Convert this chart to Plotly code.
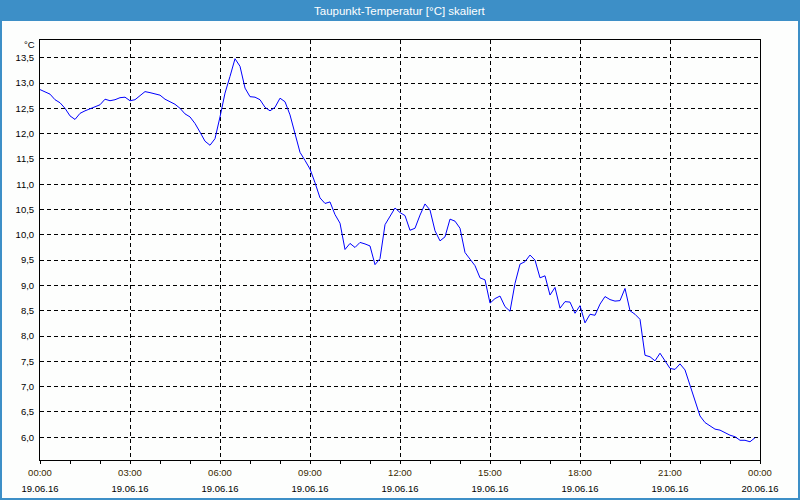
import plotly.graph_objects as go
import pandas as pd

# 10-minute readings, 19.06.16 00:00 .. 23:50
start = "2016-06-19 00:00"
dewpoint = [
    12.87, 12.83, 12.78, 12.67, 12.61, 12.50, 12.35, 12.28, 12.40, 12.45,
    12.49, 12.52, 12.57, 12.68, 12.65, 12.67, 12.71, 12.72, 12.65, 12.67,
    12.75, 12.83, 12.81, 12.79, 12.76, 12.68, 12.63, 12.58, 12.50, 12.39,
    12.33, 12.20, 12.03, 11.85, 11.77, 11.90, 12.33, 12.80, 13.13, 13.48,
    13.33, 12.90, 12.73, 12.72, 12.67, 12.52, 12.45, 12.52, 12.70, 12.63,
    12.37, 11.97, 11.63, 11.47, 11.30, 11.03, 10.73, 10.62, 10.65, 10.40,
    10.23, 9.71, 9.83, 9.75, 9.85, 9.82, 9.78, 9.41, 9.53, 10.20,
    10.37, 10.53, 10.44, 10.38, 10.09, 10.13, 10.39, 10.61, 10.49, 10.08,
    9.88, 9.96, 10.31, 10.27, 10.13, 9.65, 9.52, 9.39, 9.15, 9.11,
    8.65, 8.74, 8.79, 8.58, 8.49, 9.04, 9.42, 9.47, 9.60, 9.50,
    9.15, 9.19, 8.81, 8.96, 8.55, 8.68, 8.67, 8.45, 8.60, 8.26,
    8.43, 8.41, 8.63, 8.78, 8.72, 8.69, 8.70, 8.94, 8.50, 8.43,
    8.33, 7.62, 7.59, 7.51, 7.66, 7.50, 7.36, 7.34, 7.45, 7.33,
    7.03, 6.70, 6.42, 6.29, 6.23, 6.16, 6.14, 6.09, 6.04, 6.01,
    5.94, 5.94, 5.91, 5.99,
]
times = pd.date_range(start, periods=len(dewpoint), freq="10min")

title_text = "Taupunkt-Temperatur [°C] skaliert"
unit_text = "°C"
x_range = ["2016-06-19 00:00", "2016-06-20 00:00"]
y_range = [5.55, 13.85]

W, H = 800, 500
ML, MR, MT, MB = 40, 40, 40, 40
PW, PH = W - ML - MR, H - MT - MB


def px(xp):
    return (xp - ML) / PW


def py(yp):
    return (H - MB - yp) / PH


BLUE = "#3d8fc7"
BG = "#fdfefd"
FONT = "Liberation Sans"

fig = go.Figure()
fig.add_trace(go.Scatter(x=times, y=dewpoint, mode="lines",
                         line=dict(color="#0000ff", width=1),
                         showlegend=False, hoverinfo="x+y"))
# invisible twin for the second (date) label row
fig.add_trace(go.Scatter(x=times, y=dewpoint, mode="lines", xaxis="x2",
                         line=dict(color="rgba(0,0,0,0)", width=0),
                         showlegend=False, hoverinfo="skip"))

grid = dict(gridcolor="#000000", gridwidth=1, griddash="4px,3px")

fig.update_layout(
    width=W, height=H, autosize=False,
    margin=dict(l=ML, r=MR, t=MT, b=MB, pad=0),
    paper_bgcolor=BG, plot_bgcolor=BG,
    separators=",.",
    font=dict(family=FONT, size=9, color="#000000"),
    xaxis=dict(
        type="date", range=x_range, dtick=3 * 3600 * 1000,
        tick0="2016-06-19 00:00", tickformat="%H:%M",
        ticks="outside", ticklen=3, tickcolor="#000000",
        tickfont=dict(family=FONT, size=9.5, color="#3a2a00"),
        showline=True, linecolor="#000000", linewidth=1, mirror=True,
        showgrid=True, **grid, zeroline=False, automargin=False,
        minor=dict(dtick=3600 * 1000, ticks="outside", ticklen=3,
                   tickcolor="#000000", showgrid=False),
        ticklabelstandoff=1,
    ),
    xaxis2=dict(
        type="date", range=x_range, dtick=3 * 3600 * 1000,
        tick0="2016-06-19 00:00", tickformat="%d.%m.%y",
        overlaying="x", side="bottom", anchor="y",
        ticks="", showgrid=False, showline=False, zeroline=False,
        automargin=False,
        tickfont=dict(family=FONT, size=9.5, color="#000000"),
        ticklabelstandoff=21,
    ),
    yaxis=dict(
        range=y_range, dtick=0.5, tick0=6.0, tickformat=".1f",
        ticks="", showline=True, linecolor="#000000", linewidth=1,
        mirror=True, showgrid=True, **grid, zeroline=False,
        automargin=False,
        tickfont=dict(family=FONT, size=9.5, color="#000000"),
        ticklabelstandoff=3,
    ),
    shapes=[
        dict(type="rect", xref="paper", yref="paper",
             x0=px(0), x1=px(W), y0=py(0), y1=py(21),
             fillcolor=BLUE, line=dict(width=0), layer="above"),
        dict(type="rect", xref="paper", yref="paper",
             x0=px(1), x1=px(W - 1), y0=py(H - 1), y1=py(10),
             fillcolor="rgba(0,0,0,0)", line=dict(color=BLUE, width=2),
             layer="above"),
    ],
    annotations=[
        dict(text=title_text, xref="paper", yref="paper",
             x=px(W / 2), y=py(10.5), xanchor="center", yanchor="middle",
             showarrow=False,
             font=dict(family=FONT, size=11.5, color="#ffffff")),
        dict(text=unit_text, xref="paper", yref="paper",
             x=px(37), y=py(45), xanchor="right", yanchor="middle",
             showarrow=False,
             font=dict(family=FONT, size=9.5, color="#000000")),
    ],
)

fig.write_html("out.html")
